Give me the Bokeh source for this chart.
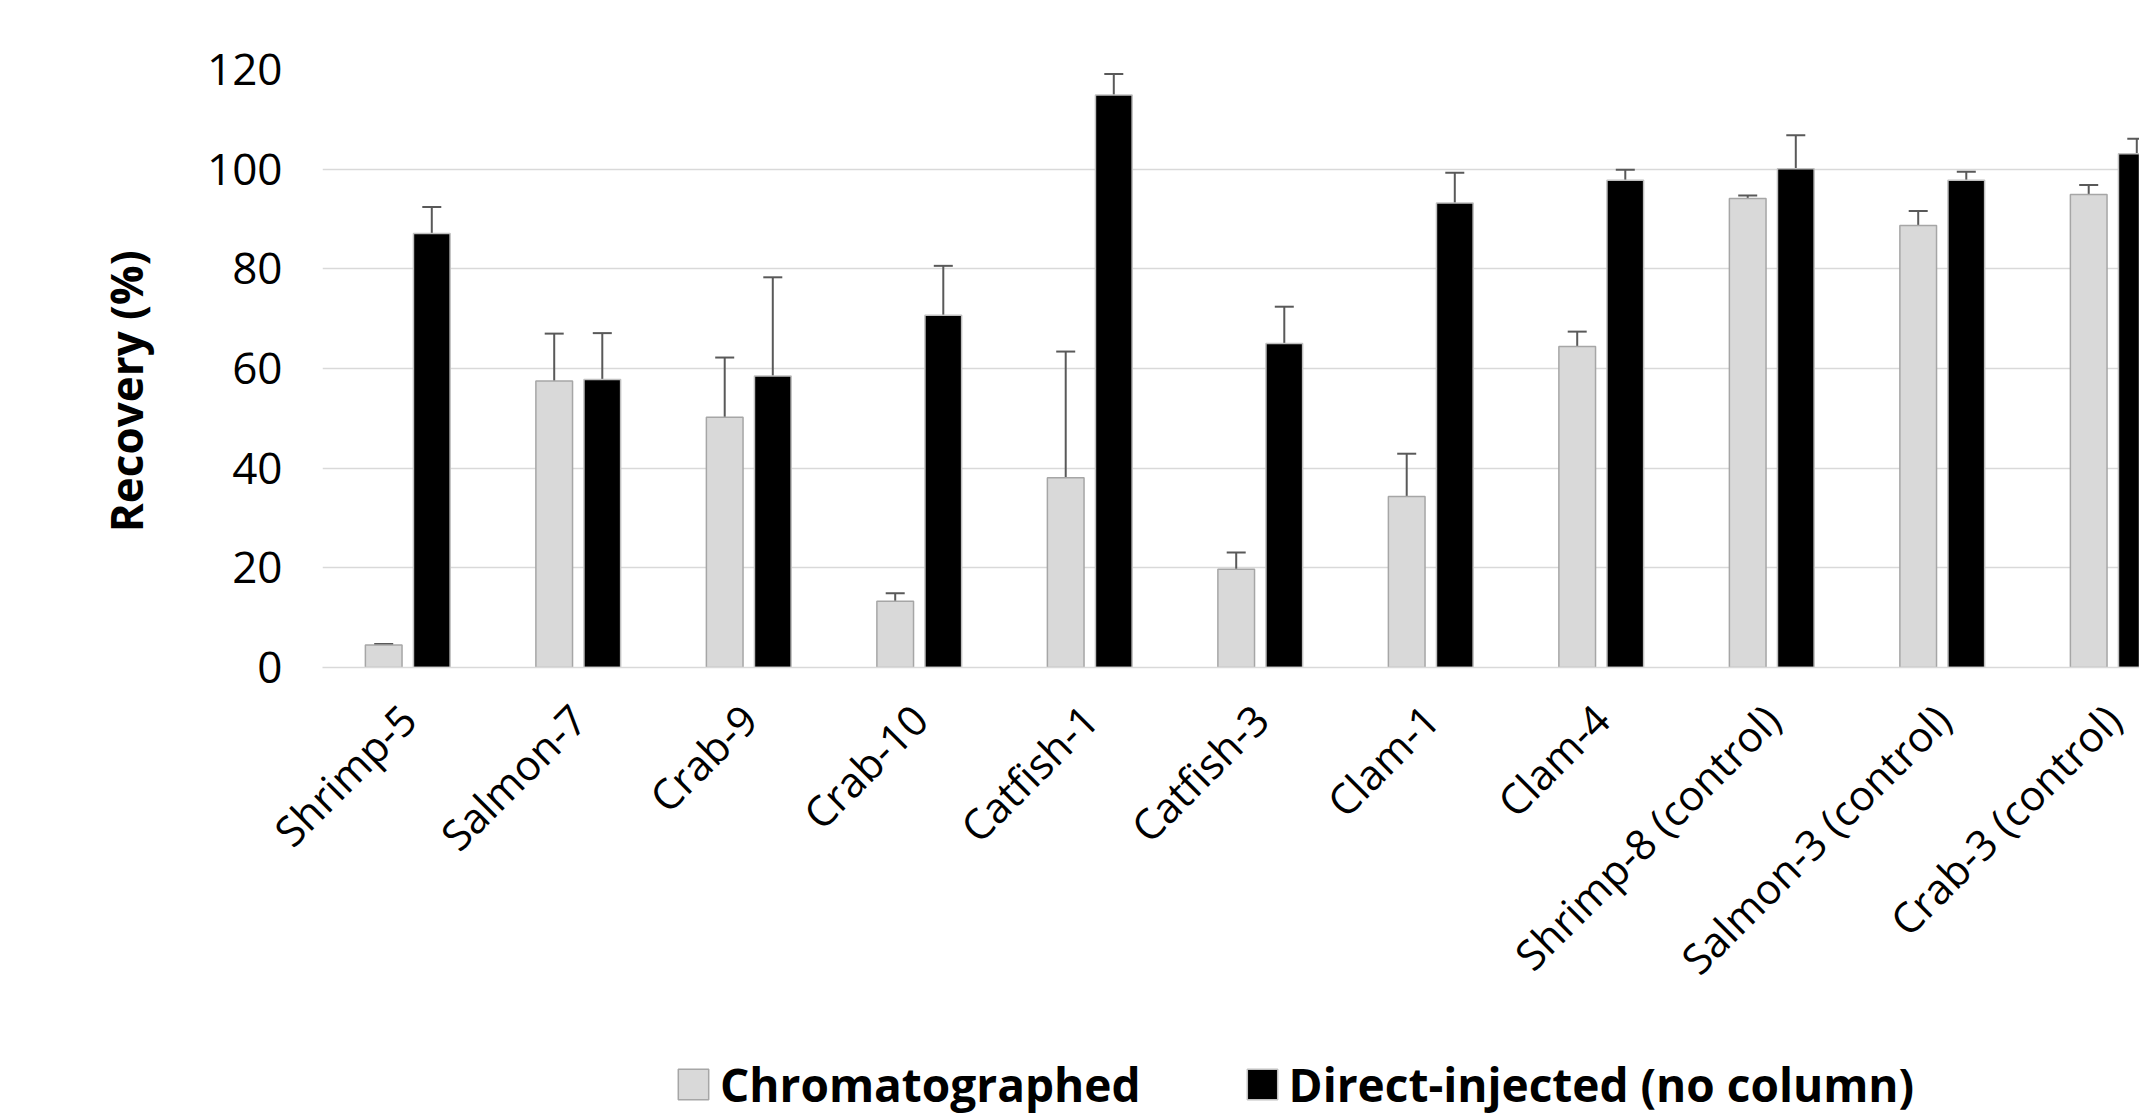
import math
from bokeh.plotting import figure
from bokeh.layouts import column
from bokeh.models import (ColumnDataSource, Range1d, FixedTicker, Whisker, TeeHead,
                          Legend, LegendItem)
from bokeh.embed import file_html
from bokeh.resources import INLINE

categories = ["Shrimp-5", "Salmon-7", "Crab-9", "Crab-10", "Catfish-1", "Catfish-3",
              "Clam-1", "Clam-4", "Shrimp-8 (control)", "Salmon-3 (control)", "Crab-3 (control)"]
chromatographed = [4.5, 57.5, 50.2, 13.3, 38.1, 19.7, 34.3, 64.4, 94.1, 88.7, 94.9]
chromatographed_err = [0.2, 9.5, 12.0, 1.6, 25.3, 3.4, 8.6, 3.0, 0.6, 2.9, 1.9]
direct_injected = [87.1, 57.8, 58.5, 70.7, 114.9, 65.0, 93.2, 97.8, 100.1, 97.8, 103.1]
direct_injected_err = [5.3, 9.3, 19.8, 9.9, 4.2, 7.4, 6.1, 2.1, 6.7, 1.7, 3.0]
y_ticks = [0, 20, 40, 60, 80, 100, 120]
series_names = ["Chromatographed", "Direct-injected (no column)"]

FONT = "Open Sans"
OFFSET = 0.141
BAR_W = 0.215
GRAY_FILL, GRAY_LINE = "#d9d9d9", "#a6a6a6"
BLACK_FILL, BLACK_LINE = "#000000", "#c0c0c0"

idx = list(range(len(categories)))
src_g = ColumnDataSource(dict(
    x=[i - OFFSET for i in idx], top=chromatographed,
    upper=[v + e for v, e in zip(chromatographed, chromatographed_err)],
    lower=[v - e for v, e in zip(chromatographed, chromatographed_err)]))
src_b = ColumnDataSource(dict(
    x=[i + OFFSET for i in idx], top=direct_injected,
    upper=[v + e for v, e in zip(direct_injected, direct_injected_err)],
    lower=[v - e for v, e in zip(direct_injected, direct_injected_err)]))

W = 2139
H_MAIN, H_LEG = 1025, 90
left, top_b = 322, 69
frame_h = 598
bottom_b = H_MAIN - top_b - frame_h
frame_w = W - left
cat_px = 170.5

p = figure(width=W, height=H_MAIN, output_backend="svg", toolbar_location=None,
           x_range=Range1d(-0.5, -0.5 + frame_w / cat_px), y_range=Range1d(0, 120),
           min_border_left=left, min_border_right=0, min_border_top=top_b,
           min_border_bottom=bottom_b)
p.outline_line_color = None
p.xgrid.grid_line_color = None
p.ygrid.grid_line_color = "#d9d9d9"
p.ygrid.grid_line_width = 1.5
p.ygrid.ticker = FixedTicker(ticks=y_ticks)

p.vbar(x="x", top="top", width=BAR_W, bottom=0, source=src_g,
       fill_color=GRAY_FILL, line_color=GRAY_LINE, line_width=1.5)
p.vbar(x="x", top="top", width=BAR_W, bottom=0, source=src_b,
       fill_color=BLACK_FILL, line_color=BLACK_LINE, line_width=1.5)

for src in (src_g, src_b):
    w = Whisker(base="x", upper="upper", lower="lower", source=src,
                line_color="#595959", line_width=2,
                upper_head=TeeHead(size=19, line_color="#595959", line_width=2),
                lower_head=TeeHead(size=19, line_color="#595959", line_width=2))
    p.add_layout(w)

# y axis
p.yaxis.ticker = FixedTicker(ticks=y_ticks)
p.yaxis.axis_line_color = None
p.yaxis.major_tick_line_color = None
p.yaxis.minor_tick_line_color = None
p.yaxis.major_label_standoff = 34
p.yaxis.major_label_text_font = FONT
p.yaxis.major_label_text_font_size = "44px"
p.yaxis.major_label_text_color = "#000000"
p.yaxis.axis_label = "Recovery (%)" + "\u00a0" * 4
p.yaxis.axis_label_standoff = 48
p.yaxis.axis_label_text_font = FONT
p.yaxis.axis_label_text_font_style = "bold"
p.yaxis.axis_label_text_font_size = "44px"
p.yaxis.axis_label_text_color = "#000000"

# x axis
p.xaxis.ticker = FixedTicker(ticks=idx)
p.xaxis.major_label_overrides = {i: c for i, c in zip(idx, categories)}
p.xaxis.major_label_orientation = math.pi / 4
p.xaxis.axis_line_color = "#d9d9d9"
p.xaxis.axis_line_width = 1.5
p.xaxis.major_tick_line_color = None
p.xaxis.minor_tick_line_color = None
p.xaxis.major_label_standoff = 38
p.xaxis.major_label_text_font = FONT
p.xaxis.major_label_text_font_size = "42px"
p.xaxis.major_label_text_color = "#000000"

# legend strip (frames of the column are aligned, so its frame starts at x=322)
pl = figure(width=W, height=H_LEG, output_backend="svg", toolbar_location=None,
            x_range=Range1d(0, frame_w), y_range=Range1d(0, H_LEG),
            x_axis_type=None, y_axis_type=None, min_border=0)
pl.outline_line_color = None
pl.grid.grid_line_color = None
lg = pl.vbar(x="x", top="top", width=1, source=src_g, visible=False,
             fill_color=GRAY_FILL, line_color=GRAY_LINE, line_width=1.5)
lb = pl.vbar(x="x", top="top", width=1, source=src_b, visible=False,
             fill_color=BLACK_FILL, line_color=BLACK_LINE, line_width=1.5)
legend = Legend(items=[LegendItem(label=series_names[0], renderers=[lg]),
                       LegendItem(label=series_names[1], renderers=[lb])],
                orientation="horizontal", location=(674 - left, 0),
                padding=0, margin=0, border_line_color=None, background_fill_alpha=0,
                glyph_width=38, glyph_height=38, label_standoff=8, spacing=102,
                inactive_fill_alpha=0,
                label_text_font=FONT, label_text_font_style="bold",
                label_text_font_size="46px", label_text_color="#000000")
pl.add_layout(legend, "center")

layout = column(p, pl, spacing=0)
open("out.html", "w").write(file_html(layout, INLINE))
